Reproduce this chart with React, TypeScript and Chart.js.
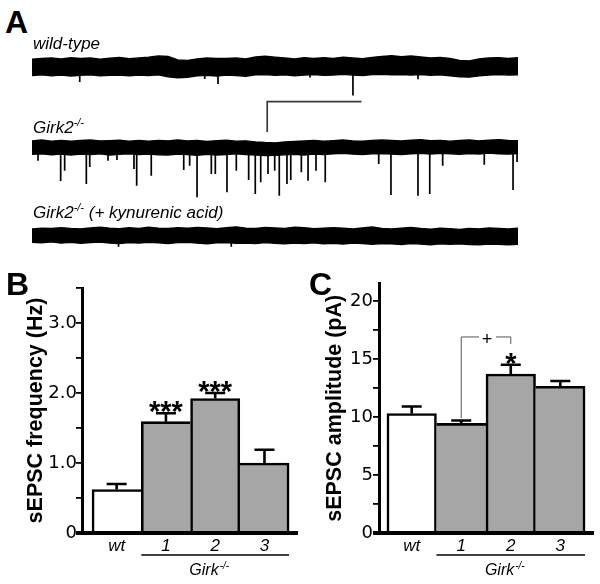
import React, { useEffect, useRef } from "react";
import { Chart, registerables } from "chart.js";

Chart.register(...registerables);

const FONT = "'Liberation Sans', Arial, Helvetica, sans-serif";
const TICK_FONT = "'DejaVu Sans', 'Liberation Sans', Arial, sans-serif";

// ---------------- Panel A : sEPSC traces (time in s, current in pA) ----------------
const TRACE_T = [0, 1, 2, 3, 4, 5, 6, 7, 8, 9, 10, 11, 12, 13, 14, 15, 16, 17, 18, 19, 20, 21, 22, 23, 24, 25, 26, 27, 28, 29, 30, 31, 32, 33, 34, 35, 36, 37, 38, 39, 40, 41, 42, 43, 44, 45, 46, 47, 48, 49, 50];

// noise envelope (upper / lower edge) of each trace, pA relative to its baseline
const WT_UPPER = [5.0, 5.6, 5.9, 5.2, 6.0, 5.5, 5.8, 5.1, 5.7, 6.2, 5.4, 5.9, 6.4, 7.2, 6.8, 4.6, 4.3, 5.3, 5.8, 5.5, 5.6, 5.9, 5.3, 6.5, 7.0, 6.4, 5.8, 5.2, 6.1, 5.5, 6.0, 5.6, 6.3, 5.9, 5.4, 6.2, 6.9, 7.3, 6.6, 7.1, 6.5, 5.9, 6.2, 5.6, 4.2, 4.0, 5.3, 5.8, 6.1, 5.5, 6.0];
const WT_LOWER = [-5.5, -5.0, -5.6, -5.2, -5.8, -5.3, -5.0, -5.7, -5.4, -5.1, -5.6, -5.2, -5.5, -5.0, -6.3, -7.0, -6.6, -5.6, -5.3, -5.8, -5.2, -5.5, -5.9, -5.0, -4.8, -5.4, -5.0, -5.6, -5.2, -4.9, -5.4, -5.1, -4.7, -5.2, -5.5, -4.9, -4.6, -5.0, -4.8, -5.2, -4.9, -5.3, -5.0, -5.6, -6.3, -6.5, -5.7, -5.1, -4.8, -5.2, -5.0];
const KO_UPPER = [4.3, 4.8, 4.1, 4.6, 4.0, 4.5, 4.9, 4.2, 4.4, 4.7, 4.1, 4.5, 4.0, 4.6, 4.3, 4.8, 4.2, 4.5, 3.9, 4.4, 4.7, 4.1, 4.3, 3.6, 3.2, 3.0, 3.5, 3.9, 4.2, 4.6, 4.1, 4.4, 4.8, 4.3, 4.0, 4.5, 4.9, 4.6, 4.2, 4.7, 5.0, 4.4, 4.6, 4.1, 4.5, 4.8, 4.3, 4.7, 5.1, 4.6, 4.4];
const KO_LOWER = [-4.4, -4.0, -4.7, -4.2, -4.9, -4.3, -4.6, -4.1, -4.8, -4.4, -4.0, -4.5, -4.2, -4.7, -4.9, -4.3, -4.6, -5.0, -4.4, -4.8, -4.5, -4.1, -4.6, -4.9, -5.2, -5.0, -4.7, -4.4, -4.8, -4.3, -4.6, -4.0, -3.8, -4.2, -4.5, -4.1, -3.9, -4.3, -4.6, -4.0, -3.8, -4.2, -3.7, -4.1, -4.4, -3.9, -4.2, -3.6, -4.0, -4.3, -3.9];
const KYN_UPPER = [4.2, 4.8, 4.5, 5.1, 4.6, 4.3, 4.9, 5.3, 4.7, 4.4, 5.0, 4.6, 5.4, 4.8, 4.5, 5.1, 4.7, 5.2, 4.9, 4.4, 5.0, 5.6, 4.8, 4.5, 5.2, 4.9, 4.6, 5.3, 5.0, 4.4, 4.8, 5.1, 4.7, 4.3, 4.9, 5.5, 4.6, 4.2, 4.8, 5.2, 4.5, 4.1, 4.7, 4.4, 4.0, 4.6, 4.3, 4.9, 4.5, 4.2, 4.7];
const KYN_LOWER = [-4.3, -4.7, -4.1, -4.9, -4.4, -5.0, -4.6, -4.2, -4.8, -5.2, -4.5, -4.9, -4.3, -4.7, -5.1, -4.6, -4.4, -4.9, -5.3, -4.7, -4.5, -5.0, -4.8, -5.2, -4.6, -5.0, -5.4, -4.9, -5.1, -4.7, -5.3, -5.0, -5.5, -4.8, -5.2, -5.6, -5.1, -5.4, -5.8, -5.2, -5.5, -5.9, -5.3, -5.7, -5.4, -5.8, -6.0, -5.5, -5.7, -5.9, -5.6];

// spontaneous events: time (s) and peak amplitude (pA)
const WT_EVENT_T = [4.91, 14.68, 17.77, 19.14, 28.6, 33.02, 39.71];
const WT_EVENT_AMP = [-9.7, -7.1, -7.7, -11.0, -6.8, -18.3, -7.9];
const KO_EVENT_T = [0.62, 2.95, 3.36, 5.59, 5.94, 7.82, 8.74, 10.49, 10.77, 12.27, 15.61, 16.22, 16.98, 18.45, 18.86, 20.06, 21.02, 22.29, 22.97, 23.53, 24.28, 24.97, 25.44, 26.23, 26.62, 27.71, 28.4, 29.22, 30.17, 35.67, 36.93, 39.71, 40.92, 42.25, 46.53, 49.49, 49.9];
const KO_EVENT_AMP = [-8.5, -21.6, -15.0, -23.5, -12.6, -8.5, -8.1, -13.9, -24.6, -18.2, -14.5, -11.7, -32.1, -17.1, -17.1, -28.9, -15.0, -21.0, -30.0, -22.5, -17.1, -15.0, -31.1, -23.5, -21.0, -16.0, -21.4, -15.0, -22.5, -10.6, -30.6, -31.1, -30.0, -11.7, -11.1, -27.4, -9.4];
const KYN_EVENT_T = [8.9, 20.5];
const KYN_EVENT_AMP = [-7.2, -7.2];

// vertical placement of each trace (pA)
const TRACE_OFFSETS = [-11, -62.9, -119.7];

// scale bar
const SCALEBAR_START = 24.2; // s
const SCALEBAR_SEC = 9.7;
const SCALEBAR_TOP = -33.35; // pA
const SCALEBAR_PA = 19.5;

// ---------------- Panels B & C ----------------
const GROUPS = ["wt", "1", "2", "3"];
const KO_GROUP = [1, 3];
const KO_LABEL = "Girk";
const KO_SUP = "-/-";

const FREQ_MEAN = [0.62, 1.59, 1.92, 1.0];
const FREQ_SEM = [0.08, 0.12, 0.08, 0.19];
const FREQ_MARKS = ["", "***", "***", ""];

const AMP_MEAN = [10.3, 9.45, 13.7, 12.65];
const AMP_SEM = [0.6, 0.25, 0.8, 0.45];
const AMP_MARKS = ["", "", "*", ""];
const AMP_BRACKET_PAIR = [1, 2];
const AMP_BRACKET_LEVELS = [9.9, 16.9, 16.3];
const AMP_BRACKET_LABEL = "+";

const BAR_FILLS = ["#ffffff", "#a6a6a6", "#a6a6a6", "#a6a6a6"];

function envelope(upper: number[], lower: number[], off: number) {
  return [
    {
      data: TRACE_T.map((t, i) => ({ x: t, y: off + upper[i] })),
      borderColor: "#000",
      borderWidth: 1.4,
      pointRadius: 0,
      fill: false,
    },
    {
      data: TRACE_T.map((t, i) => ({ x: t, y: off + lower[i] })),
      borderColor: "#000",
      backgroundColor: "#000",
      borderWidth: 1.4,
      pointRadius: 0,
      fill: "-1",
    },
  ];
}

function events(ts: number[], amps: number[], off: number) {
  return {
    data: ts.flatMap((t, i) => [
      { x: t, y: off },
      { x: t, y: off + amps[i] },
      { x: t, y: null },
    ]),
    borderColor: "#000",
    borderWidth: 1.7,
    pointRadius: 0,
    fill: false,
    spanGaps: false,
  };
}

function barBorders(values: number[]) {
  const w = 2.6;
  return values.map((v, i) => ({
    top: w,
    left: i === 0 || v >= values[i - 1] ? w : 0,
    right: i === values.length - 1 || v > values[i + 1] ? w : 0,
    bottom: 0,
  }));
}

function overlayPlugin(o: any) {
  return {
    id: "overlay",
    afterDraw(chart: any) {
      const { ctx, chartArea } = chart;
      const x = chart.scales.x;
      const y = chart.scales.y;
      ctx.save();
      ctx.strokeStyle = "#000";
      ctx.fillStyle = "#000";
      o.mean.forEach((m: number, i: number) => {
        const cx = x.getPixelForValue(i);
        const base = y.getPixelForValue(m);
        const top = y.getPixelForValue(m + o.sem[i]);
        ctx.lineWidth = 2.6;
        ctx.beginPath();
        ctx.moveTo(cx, base);
        ctx.lineTo(cx, top);
        ctx.moveTo(cx - 10, top);
        ctx.lineTo(cx + 10, top);
        ctx.stroke();
        if (o.marks[i]) {
          ctx.font = `bold 29px ${FONT}`;
          ctx.textAlign = "center";
          ctx.textBaseline = "alphabetic";
          ctx.fillText(o.marks[i], cx, top + 8);
        }
      });
      if (o.bracket) {
        const [i0, i1] = o.bracket.pair;
        const [yl, yh, yr] = o.bracket.levels;
        const x0 = x.getPixelForValue(i0);
        const x1 = x.getPixelForValue(i1);
        const pl = y.getPixelForValue(yl);
        const ph = y.getPixelForValue(yh);
        const pr = y.getPixelForValue(yr);
        const xm = (x0 + x1) / 2;
        ctx.lineWidth = 1;
        ctx.strokeStyle = "#555";
        ctx.beginPath();
        ctx.moveTo(x0, pl);
        ctx.lineTo(x0, ph);
        ctx.lineTo(xm - 7, ph);
        ctx.moveTo(xm + 10, ph);
        ctx.lineTo(x1, ph);
        ctx.lineTo(x1, pr);
        ctx.stroke();
        ctx.font = `18px ${FONT}`;
        ctx.textAlign = "center";
        ctx.textBaseline = "alphabetic";
        ctx.fillStyle = "#000";
        ctx.fillText(o.bracket.label, xm + 1, ph + 8);
      }
      // Girk-/- group underline and label
      const gx0 = x.getPixelForValue(KO_GROUP[0] - 0.5);
      const gx1 = x.getPixelForValue(KO_GROUP[1] + 0.5);
      const gy = chartArea.bottom + 22;
      ctx.strokeStyle = "#000";
      ctx.lineWidth = 1.5;
      ctx.beginPath();
      ctx.moveTo(gx0, gy);
      ctx.lineTo(gx1, gy);
      ctx.stroke();
      ctx.fillStyle = "#000";
      ctx.textAlign = "left";
      ctx.textBaseline = "alphabetic";
      ctx.font = `italic 16px ${FONT}`;
      const w1 = ctx.measureText(KO_LABEL).width;
      ctx.font = `italic 10px ${FONT}`;
      const w2 = ctx.measureText(KO_SUP).width;
      const cxg = x.getPixelForValue((KO_GROUP[0] + KO_GROUP[1]) / 2) - 6;
      const start = cxg - (w1 + w2 + 1) / 2;
      const by = chartArea.bottom + 42;
      ctx.font = `italic 16px ${FONT}`;
      ctx.fillText(KO_LABEL, start, by);
      ctx.font = `italic 10px ${FONT}`;
      ctx.fillText(KO_SUP, start + w1 + 1, by - 6);
      ctx.restore();
    },
  };
}

function makeBarChart(canvas: HTMLCanvasElement, o: any) {
  return new Chart(canvas, {
    type: "bar",
    data: {
      datasets: [
        {
          data: o.mean.map((v: number, i: number) => ({ x: i, y: v })),
          backgroundColor: BAR_FILLS,
          borderColor: "#000",
          borderWidth: barBorders(o.mean) as any,
          borderSkipped: "start",
          barPercentage: 1,
          categoryPercentage: 1,
        },
      ],
    },
    options: {
      animation: false,
      responsive: false,
      events: [],
      layout: { padding: { top: o.padTop, right: o.padRight, left: 0, bottom: 0 } },
      plugins: { legend: { display: false }, tooltip: { enabled: false } },
      scales: {
        x: {
          type: "linear",
          min: o.xMin,
          max: o.xMax,
          offset: false,
          z: 1,
          grid: { display: false, drawTicks: false },
          border: { display: true, width: 4, color: "#000" },
          afterBuildTicks: (s: any) => {
            s.ticks = GROUPS.map((_, i) => ({ value: i }));
          },
          afterFit: (s: any) => {
            s.height = 51;
          },
          ticks: {
            autoSkip: false,
            maxRotation: 0,
            padding: 3,
            color: "#000",
            font: { size: 17, style: "italic", family: FONT },
            callback: (v: any) => GROUPS[v] ?? "",
          },
        },
        y: {
          type: "linear",
          min: 0,
          max: o.yMax,
          z: 1,
          afterFit: (s: any) => {
            s.width = o.axisWidth;
          },
          grid: {
            drawOnChartArea: false,
            drawTicks: true,
            tickLength: 6,
            color: "#000",
            lineWidth: (c: any) => (c.tick && c.tick.value === 0 ? 4 : 1.8),
          },
          border: { display: true, width: 3, color: "#000" },
          ticks: {
            stepSize: o.step,
            includeBounds: false,
            autoSkip: false,
            padding: o.tickPad,
            color: "#000",
            font: { size: 18, family: TICK_FONT },
            callback: o.tickLabel,
          },
          title: {
            display: true,
            text: o.title,
            color: "#000",
            font: { size: 21.5, weight: "bold", family: FONT, lineHeight: 1 },
            padding: { top: o.titlePad, bottom: 0 },
          },
        },
      },
    } as any,
    plugins: [overlayPlugin(o)],
  });
}

export default function App() {
  const aRef = useRef<HTMLCanvasElement>(null);
  const bRef = useRef<HTMLCanvasElement>(null);
  const cRef = useRef<HTMLCanvasElement>(null);

  useEffect(() => {
    const datasets: any[] = [
      ...envelope(WT_UPPER, WT_LOWER, TRACE_OFFSETS[0]),
      ...envelope(KO_UPPER, KO_LOWER, TRACE_OFFSETS[1]),
      ...envelope(KYN_UPPER, KYN_LOWER, TRACE_OFFSETS[2]),
      events(WT_EVENT_T, WT_EVENT_AMP, TRACE_OFFSETS[0]),
      events(KO_EVENT_T, KO_EVENT_AMP, TRACE_OFFSETS[1]),
      events(KYN_EVENT_T, KYN_EVENT_AMP, TRACE_OFFSETS[2]),
      {
        data: [
          { x: SCALEBAR_START, y: SCALEBAR_TOP - SCALEBAR_PA },
          { x: SCALEBAR_START, y: SCALEBAR_TOP },
          { x: SCALEBAR_START + SCALEBAR_SEC, y: SCALEBAR_TOP },
        ],
        borderColor: "#3a3a3a",
        borderWidth: 1.7,
        pointRadius: 0,
        fill: false,
      },
    ];
    const chartA = new Chart(aRef.current!, {
      type: "line",
      data: { datasets },
      options: {
        animation: false,
        responsive: false,
        events: [],
        layout: { padding: 0 },
        plugins: { legend: { display: false }, tooltip: { enabled: false } },
        elements: { line: { tension: 0 }, point: { radius: 0 } },
        scales: {
          x: { type: "linear", display: false, min: 0, max: 50, offset: false },
          y: { type: "linear", display: false, min: -129.03, max: 0 },
        },
      } as any,
    });

    const chartB = makeBarChart(bRef.current!, {
      mean: FREQ_MEAN,
      sem: FREQ_SEM,
      marks: FREQ_MARKS,
      yMax: 3.5,
      step: 0.5,
      xMin: -0.703,
      xMax: 3.66,
      padTop: 38,
      padRight: 3,
      axisWidth: 82,
      tickPad: -1,
      titlePad: 25.5,
      title: "sEPSC frequency (Hz)",
      tickLabel: (v: number) => (v % 1 === 0 ? (v === 0 ? "0" : v.toFixed(1)) : ""),
    });

    const chartC = makeBarChart(cRef.current!, {
      mean: AMP_MEAN,
      sem: AMP_SEM,
      marks: AMP_MARKS,
      yMax: 21.5,
      step: 2.5,
      xMin: -0.66,
      xMax: 3.66,
      padTop: 33.6,
      padRight: 7,
      axisWidth: 79,
      tickPad: 0,
      titlePad: 24,
      title: "sEPSC amplitude (pA)",
      tickLabel: (v: number) => (v % 5 === 0 ? String(v) : ""),
      bracket: { pair: AMP_BRACKET_PAIR, levels: AMP_BRACKET_LEVELS, label: AMP_BRACKET_LABEL },
    });

    return () => {
      chartA.destroy();
      chartB.destroy();
      chartC.destroy();
    };
  }, []);

  const letter = (left: number, top: number): React.CSSProperties => ({
    position: "absolute",
    left,
    top,
    fontSize: 32,
    lineHeight: "32px",
    fontWeight: "bold",
    color: "#000",
    fontFamily: FONT,
  });
  const label = (left: number, top: number): React.CSSProperties => ({
    position: "absolute",
    left,
    top,
    fontSize: 17,
    lineHeight: "17px",
    fontStyle: "italic",
    whiteSpace: "nowrap",
    color: "#000",
    fontFamily: FONT,
  });
  const sup: React.CSSProperties = { fontSize: 11, position: "relative", top: -7, verticalAlign: "baseline" };

  return (
    <div style={{ position: "absolute", left: 0, top: 0, width: 600, height: 584, background: "#fff", fontFamily: FONT }}>
      <canvas ref={aRef} width={486} height={200} style={{ position: "absolute", left: 32, top: 50 }} />
      <canvas ref={bRef} width={300} height={334} style={{ position: "absolute", left: 0, top: 250 }} />
      <canvas ref={cRef} width={300} height={334} style={{ position: "absolute", left: 300, top: 250 }} />
      <div style={letter(5, 6)}>A</div>
      <div style={letter(6, 268)}>B</div>
      <div style={letter(309, 268)}>C</div>
      <div style={label(33, 34.6)}>wild-type</div>
      <div style={label(33, 118.6)}>
        Girk2<span style={sup}>-/-</span>
      </div>
      <div style={label(33, 203.6)}>
        Girk2<span style={sup}>-/-</span> (+ kynurenic acid)
      </div>
    </div>
  );
}
